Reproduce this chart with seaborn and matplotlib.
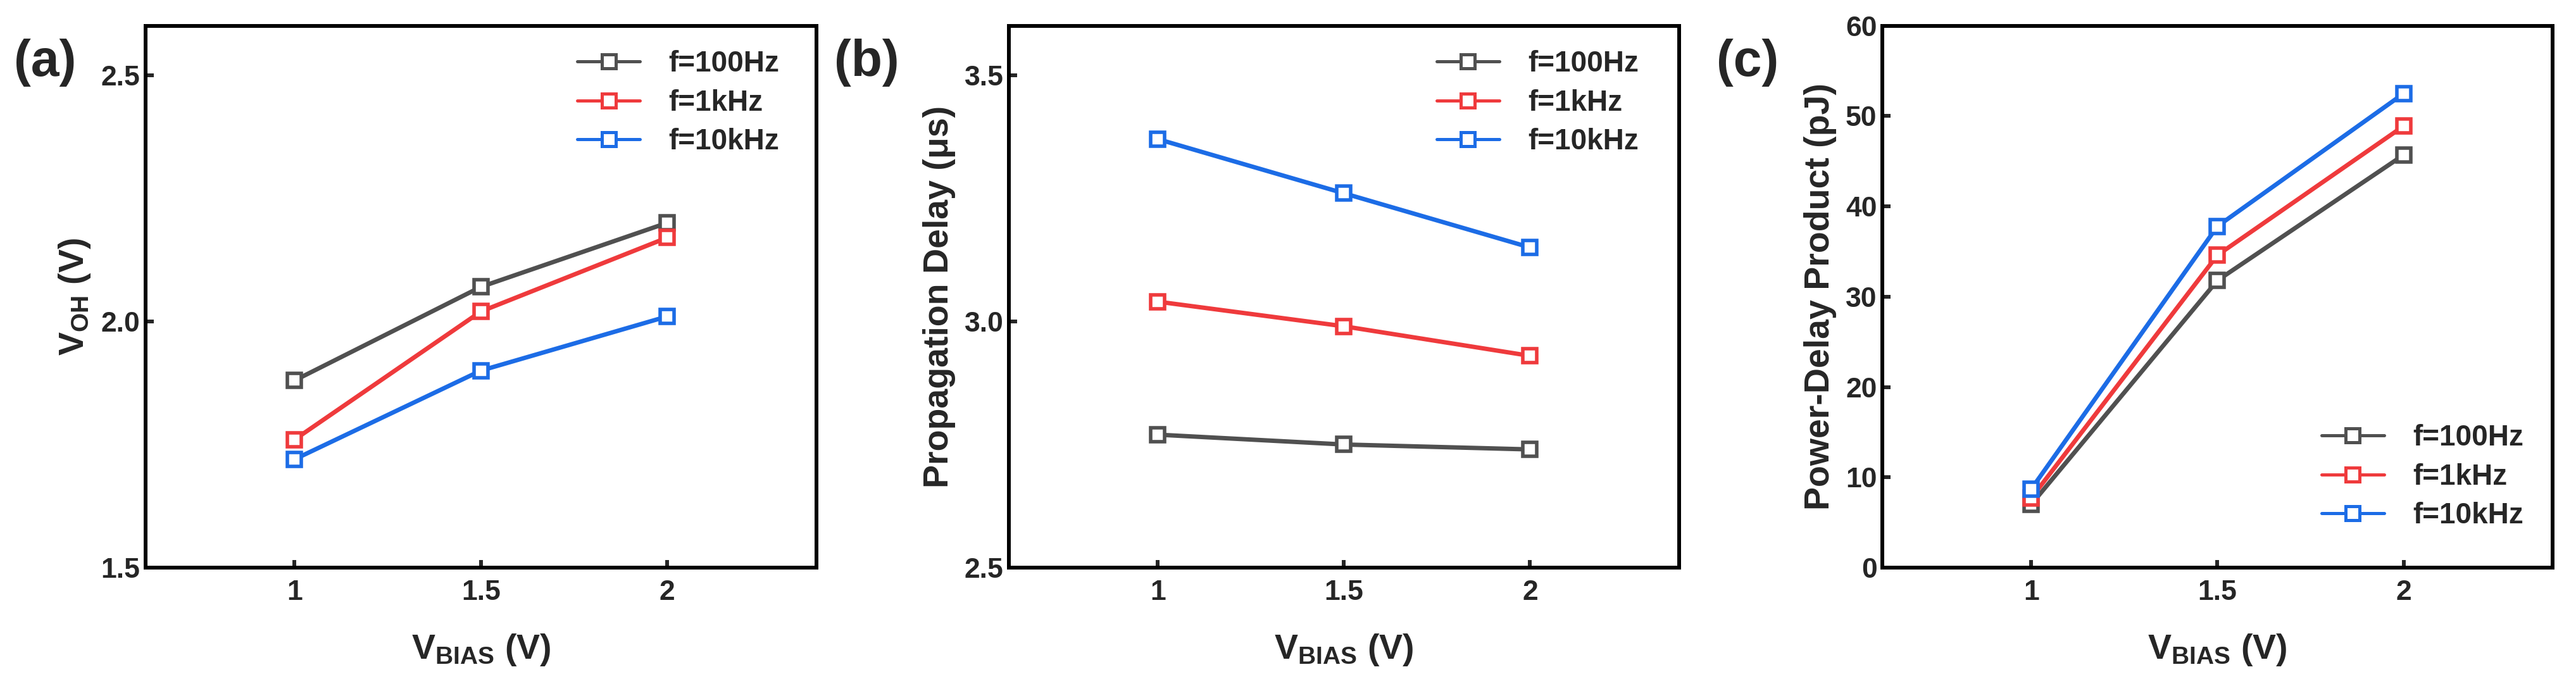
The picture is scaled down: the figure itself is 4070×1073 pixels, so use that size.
import pandas as pd
import matplotlib
matplotlib.use("Agg")
import matplotlib.pyplot as plt
import seaborn as sns

# data
vbias = [1.0, 1.5, 2.0]
freqs = ["f=100Hz", "f=1kHz", "f=10kHz"]

voh_100 = [1.88, 2.07, 2.20]
voh_1k = [1.76, 2.02, 2.17]
voh_10k = [1.72, 1.90, 2.01]

delay_100 = [2.77, 2.75, 2.74]
delay_1k = [3.04, 2.99, 2.93]
delay_10k = [3.37, 3.26, 3.15]

pdp_100 = [7.0, 31.8, 45.7]
pdp_1k = [7.7, 34.6, 48.9]
pdp_10k = [8.7, 37.8, 52.5]

colors = {"f=100Hz": "#505050", "f=1kHz": "#ef3a3c", "f=10kHz": "#1c6ce6"}


def long_df(a, b, c):
    rows = []
    for name, vals in zip(freqs, [a, b, c]):
        for x, y in zip(vbias, vals):
            rows.append({"vbias": x, "value": y, "freq": name})
    return pd.DataFrame(rows)


def draw_panel(ax, df, ylim, yticks, yfmt, ylabel, legend_loc, legend_anchor):
    for name in freqs:
        sub = df[df["freq"] == name]
        sns.lineplot(data=sub, x="vbias", y="value", ax=ax, color=colors[name],
                     marker="s", markersize=15.5, markerfacecolor="white",
                     markeredgecolor=colors[name], markeredgewidth=4,
                     linewidth=5, label=name, errorbar=None)
    ax.set_xlim(0.6, 2.4)
    ax.set_ylim(*ylim)
    ax.set_xticks(vbias)
    ax.set_xticklabels(["1", "1.5", "2"])
    ax.set_yticks(yticks)
    ax.set_yticklabels([yfmt.format(t) for t in yticks])
    ax.tick_params(axis="both", direction="in", length=9, width=4.3, labelsize=32)
    ax.tick_params(axis="x", pad=14)
    ax.tick_params(axis="y", pad=6)
    for sp in ax.spines.values():
        sp.set_linewidth(4.3)
        sp.set_color("black")
    ax.set_xlabel(r"V$_{BIAS}$ (V)", fontsize=40, labelpad=30)
    ax.set_ylabel(ylabel, fontsize=40, labelpad=10)
    leg = ax.legend(loc=legend_loc, bbox_to_anchor=legend_anchor, frameon=False,
                    fontsize=33, handlelength=2.15, handletextpad=1.0,
                    labelspacing=0.38, borderpad=0, borderaxespad=0)
    for h in leg.legend_handles:
        h.set_linewidth(3.6)
        h.set_markeredgewidth(3.6)
    ax.grid(False)


def main():
    sns.set_theme(style="ticks")
    plt.rcParams.update({
        "font.family": ["Liberation Sans", "DejaVu Sans"],
        "font.weight": "bold",
        "axes.labelweight": "bold",
        "mathtext.fontset": "custom",
        "mathtext.rm": "Liberation Sans:bold",
        "mathtext.bf": "Liberation Sans:bold",
        "mathtext.default": "bf",
    })

    fig = plt.figure(figsize=(40.7, 10.73), dpi=100)
    bottom, height = 0.164, 0.798
    ax_a = fig.add_axes([0.0565, bottom, 0.2604, height])
    ax_b = fig.add_axes([0.3916, bottom, 0.2602, height])
    ax_c = fig.add_axes([0.7307, bottom, 0.2602, height])

    draw_panel(ax_a, long_df(voh_100, voh_1k, voh_10k), (1.5, 2.6),
               [1.5, 2.0, 2.5], "{:.1f}", r"V$_{OH}$ (V)",
               "upper right", (0.945, 0.955))
    draw_panel(ax_b, long_df(delay_100, delay_1k, delay_10k), (2.5, 3.6),
               [2.5, 3.0, 3.5], "{:.1f}", "Propagation Delay (μs)",
               "upper right", (0.94, 0.955))
    draw_panel(ax_c, long_df(pdp_100, pdp_1k, pdp_10k), (0, 60),
               [0, 10, 20, 30, 40, 50, 60], "{:.0f}", "Power-Delay Product (pJ)",
               "lower right", (0.957, 0.07))

    for label, x in [("(a)", 22), ("(b)", 1318), ("(c)", 2712)]:
        fig.text(x / 4070, 1 - 99 / 1073, label, fontsize=58, fontweight="bold",
                 ha="left", va="center")

    fig.savefig("out.png", dpi=100, facecolor="white")
    plt.close(fig)


if __name__ == "__main__":
    main()
